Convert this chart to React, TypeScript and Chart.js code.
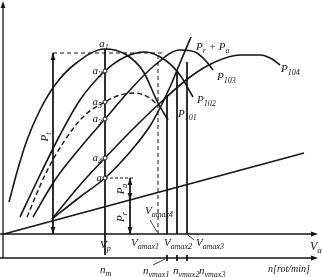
import React, { useEffect, useRef } from "react";
import { Chart, registerables } from "chart.js";
Chart.register(...registerables);

// Speed (V) / power (P) readings, origin at the axes crossing
const gear1V = [5, 13, 23, 36, 51, 71, 101, 121, 139, 154, 164];
const gear1P = [32, 62, 94, 124, 149, 170, 185, 180, 163, 131, 114];
const gear2V = [16, 36, 56, 76, 101, 121, 141, 161, 176, 189];
const gear2P = [17, 59, 99, 134, 163, 177, 182, 174, 159, 137];
const gear3V = [29, 51, 76, 101, 126, 151, 176, 191, 201, 209];
const gear3P = [17, 54, 86, 115, 144, 169, 184, 182, 174, 164];
const gear4V = [48, 76, 101, 126, 156, 186, 211, 236, 256, 268, 276];
const gear4P = [15, 49, 76, 102, 131, 157, 172, 179, 179, 175, 169];
const partialV = [23, 41, 61, 81, 101, 116, 131, 144, 154];
const partialP = [17, 59, 94, 119, 132, 139, 141, 137, 129];
const resistV = [48, 76, 101, 126, 146, 156, 166, 176, 187];
const resistP = [15, 37, 56, 82, 108, 126, 147, 171, 197];
const rollV = [0, 300];
const rollP = [0, 81];

const vpSpeed = 101;
const vpTop = 185;
const vmaxSpeeds = [163, 173, 183];
const vmaxTops = [139, 164, 172];
const vmax4Speed = 154;
const vmax4Top = 179;
const maxPowerLevel = 181;
const ptSpeed = 49;
const bracketSpeed = 126;
const aPoints = [163, 132, 115, 76, 56];
const aNames = ["2", "5", "3", "4", ""];

const INK = "#151515";
const N_AXIS = -24;

type Part = [string, boolean];

function line(V: number[], P: number[], opts: any = {}) {
  return {
    data: V.map((v, i) => ({ x: v, y: P[i] })),
    showLine: true,
    pointRadius: 0,
    borderColor: INK,
    borderWidth: 1.6,
    cubicInterpolationMode: "monotone",
    clip: false,
    ...opts,
  };
}

function rich(ctx: CanvasRenderingContext2D, x: number, y: number, parts: Part[], align = "left", size = 11) {
  const main = `italic ${size}px "Liberation Serif", serif`;
  const sub = `italic ${Math.round(size * 0.72)}px "Liberation Serif", serif`;
  let w = 0;
  for (const [t, s] of parts) {
    ctx.font = s ? sub : main;
    w += ctx.measureText(t).width;
  }
  let cx = align === "right" ? x - w : align === "center" ? x - w / 2 : x;
  ctx.textAlign = "left";
  ctx.textBaseline = "alphabetic";
  for (const [t, s] of parts) {
    ctx.font = s ? sub : main;
    ctx.fillText(t, cx, s ? y + 3 : y);
    cx += ctx.measureText(t).width;
  }
}

function arrow(ctx: CanvasRenderingContext2D, x: number, y: number, dir: string) {
  const L = 7, W = 2.4;
  ctx.beginPath();
  if (dir === "up") { ctx.moveTo(x, y); ctx.lineTo(x - W, y + L); ctx.lineTo(x + W, y + L); }
  if (dir === "down") { ctx.moveTo(x, y); ctx.lineTo(x - W, y - L); ctx.lineTo(x + W, y - L); }
  if (dir === "right") { ctx.moveTo(x, y); ctx.lineTo(x - L, y - W); ctx.lineTo(x - L, y + W); }
  ctx.closePath();
  ctx.fill();
}

const annotate = {
  id: "annotate",
  afterDatasetsDraw(chart: any) {
    const ctx: CanvasRenderingContext2D = chart.ctx;
    const X = (v: number) => chart.scales.x.getPixelForValue(v);
    const Y = (p: number) => chart.scales.y.getPixelForValue(p);
    ctx.save();
    ctx.fillStyle = INK;
    ctx.strokeStyle = INK;
    // arrowheads
    arrow(ctx, X(-1), Y(233), "up");
    arrow(ctx, X(314), Y(0), "right");
    arrow(ctx, X(314), Y(N_AXIS), "right");
    arrow(ctx, X(ptSpeed), Y(maxPowerLevel), "up");
    arrow(ctx, X(ptSpeed), Y(0), "down");
    arrow(ctx, X(bracketSpeed), Y(resistP[2]), "up");
    arrow(ctx, X(bracketSpeed), Y(34), "down");
    arrow(ctx, X(bracketSpeed), Y(0), "down");
    // a points
    ctx.lineWidth = 1;
    for (const p of aPoints) {
      ctx.beginPath();
      ctx.arc(X(vpSpeed), Y(p), 2, 0, Math.PI * 2);
      ctx.fillStyle = "#fff";
      ctx.fill();
      ctx.stroke();
    }
    ctx.fillStyle = INK;
    rich(ctx, X(vpSpeed) - 1, Y(187), [["a", false], ["1", true]], "center");
    aPoints.forEach((p, i) => {
      rich(ctx, X(vpSpeed) - 3, Y(p) + 3, [["a", false], [aNames[i], true]], "right");
    });
    // curve labels
    rich(ctx, X(192), Y(184), [["P", false], ["r", true], [" + ", false], ["P", false], ["a", true]]);
    rich(ctx, X(174), Y(117), [["P", false], ["101", true]]);
    rich(ctx, X(193), Y(131), [["P", false], ["102", true]]);
    rich(ctx, X(213), Y(154), [["P", false], ["103", true]]);
    rich(ctx, X(277), Y(162), [["P", false], ["104", true]]);
    // axis labels
    rich(ctx, X(96), Y(-14), [["V", false], ["p", true]]);
    rich(ctx, X(96), Y(-39), [["n", false], ["m", true]]);
    rich(ctx, X(127), Y(-12), [["V", false], ["amax1", true]]);
    rich(ctx, X(160), Y(-12), [["V", false], ["amax2", true]]);
    rich(ctx, X(192), Y(-12), [["V", false], ["amax3", true]]);
    rich(ctx, X(141), Y(20), [["V", false], ["amax4", true]]);
    rich(ctx, X(139), Y(-40), [["n", false], ["vmax1", true]]);
    rich(ctx, X(169), Y(-40), [["n", false], ["vmax2", true]]);
    rich(ctx, X(195), Y(-40), [["n", false], ["vmax3", true]]);
    rich(ctx, X(306), Y(-16), [["V", false], ["a", true]], "left", 12);
    rich(ctx, X(264), Y(-38), [["n[rot/min]", false]], "left", 10);
    // rotated bracket labels
    const rot = (v: number, p: number, parts: Part[]) => {
      ctx.save();
      ctx.translate(X(v), Y(p));
      ctx.rotate(-Math.PI / 2);
      rich(ctx, 0, 0, parts, "center");
      ctx.restore();
    };
    rot(44, 97, [["P", false], ["t", true]]);
    rot(120, 45, [["P", false], ["a", true]]);
    rot(120, 17, [["P", false], ["r", true]]);
    // leader strokes
    ctx.lineWidth = 0.8;
    ctx.beginPath();
    ctx.moveTo(X(146), Y(14)); ctx.lineTo(X(153), Y(2));
    ctx.moveTo(X(184), Y(-1)); ctx.lineTo(X(190), Y(-6));
    ctx.moveTo(X(149), Y(-31)); ctx.lineTo(X(161), Y(-25));
    ctx.stroke();
    ctx.restore();
  },
};

export default function App() {
  const ref = useRef<HTMLCanvasElement>(null);
  useEffect(() => {
    if (!ref.current) return;
    const thin = { borderWidth: 1, tension: 0, cubicInterpolationMode: "default" };
    const datasets: any[] = [
      line(gear1V, gear1P),
      line(gear2V, gear2P),
      line(gear3V, gear3P),
      line(gear4V, gear4P),
      line(partialV, partialP, { borderDash: [5, 3], borderWidth: 1.4 }),
      line(resistV, resistP),
      line(rollV, rollP, { borderWidth: 1.6, tension: 0, cubicInterpolationMode: "default" }),
      // axes
      line([-1, -1], [N_AXIS, 230], { ...thin, borderWidth: 1.3 }),
      line([-4, 312], [0, 0], { ...thin, borderWidth: 1.5 }),
      line([-4, 312], [N_AXIS, N_AXIS], { ...thin, borderWidth: 1.5 }),
      // construction lines
      line([vpSpeed, vpSpeed], [vpTop, N_AXIS + 3], thin),
      line([vmax4Speed, vmax4Speed], [vmax4Top, 0], { ...thin, borderDash: [4, 3] }),
      ...vmaxSpeeds.map((v, i) => line([v, v], [vmaxTops[i], 0], thin)),
      ...vmaxSpeeds.map((v) => line([v, v], [N_AXIS + 3, N_AXIS - 3], thin)),
      line([ptSpeed, 158], [maxPowerLevel, maxPowerLevel], { ...thin, borderDash: [4, 3] }),
      line([ptSpeed, ptSpeed], [maxPowerLevel, 0], thin),
      line([vpSpeed, bracketSpeed + 3], [resistP[2], resistP[2]], { ...thin, borderDash: [3, 2] }),
      line([bracketSpeed, bracketSpeed], [resistP[2], 0], thin),
    ];
    const chart = new Chart(ref.current, {
      type: "scatter",
      data: { datasets },
      options: {
        animation: false,
        responsive: false,
        devicePixelRatio: 1,
        layout: { padding: 0 },
        plugins: { legend: { display: false }, tooltip: { enabled: false } },
        scales: {
          x: { type: "linear", display: false, min: -4, max: 318 },
          y: { type: "linear", display: false, min: -43, max: 234 },
        },
      },
      plugins: [annotate],
    } as any);
    return () => chart.destroy();
  }, []);
  return (
    <div style={{ position: "fixed", left: 0, top: 0, width: 322, height: 277, background: "#fff" }}>
      <canvas ref={ref} width={322} height={277} />
    </div>
  );
}
